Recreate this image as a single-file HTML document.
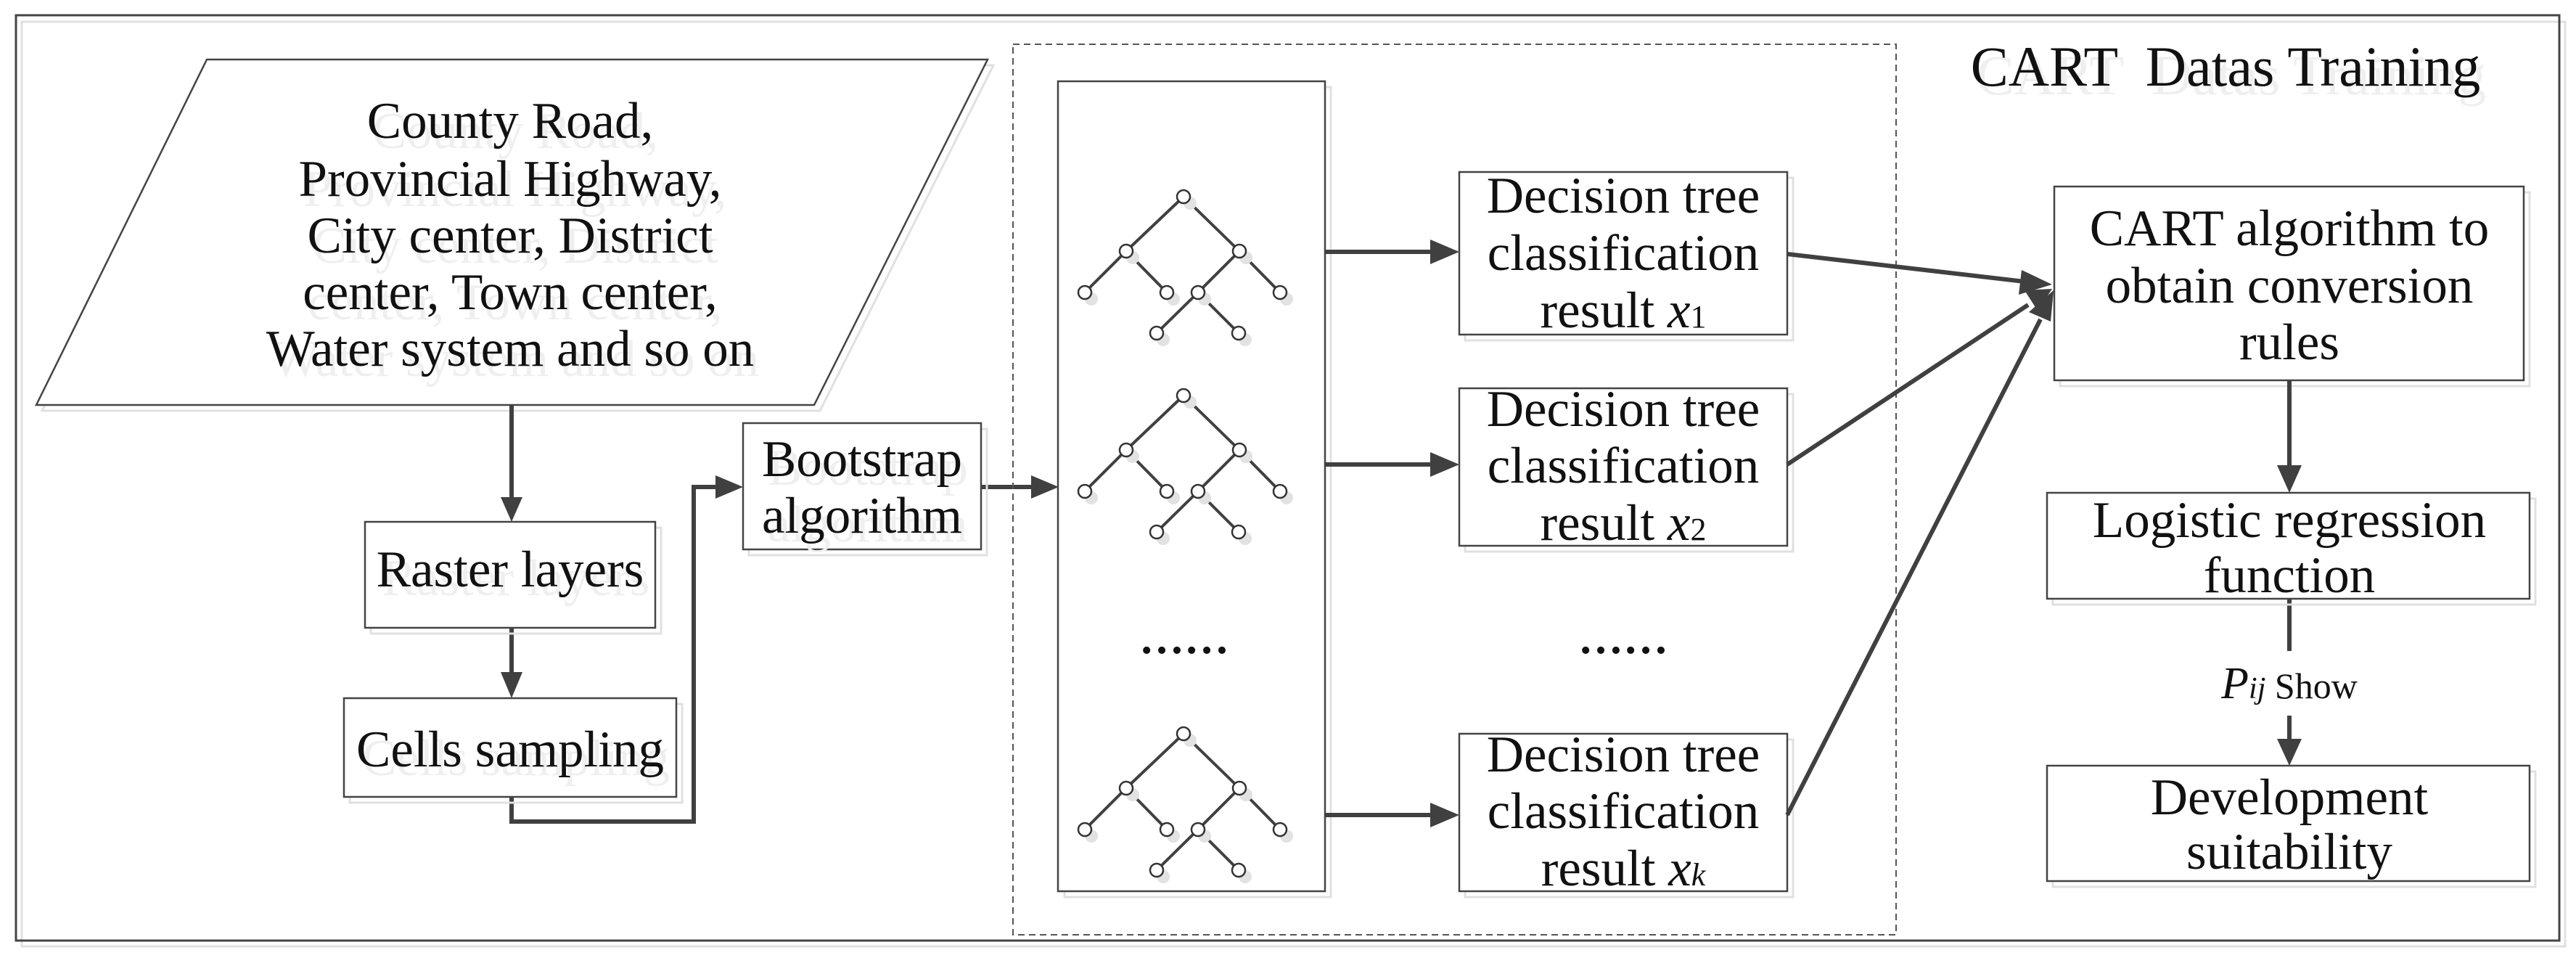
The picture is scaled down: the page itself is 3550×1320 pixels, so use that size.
<!DOCTYPE html>
<html><head><meta charset="utf-8"><style>
html,body{margin:0;padding:0;background:#fff;}
svg{display:block;}
text{font-family:"Liberation Serif",serif;font-size:71px;fill:#111;text-anchor:middle;}
.sh{fill:#efefef;}
</style></head><body>
<svg width="3550" height="1320" viewBox="0 0 3550 1320" xmlns="http://www.w3.org/2000/svg">
<defs>
<g id="tree">
<g stroke="#404040" stroke-width="4" fill="none">
<line x1="1631" y1="271" x2="1552" y2="346"/><line x1="1631" y1="271" x2="1708" y2="346"/>
<line x1="1552" y1="346" x2="1495" y2="403"/><line x1="1552" y1="346" x2="1608" y2="403"/>
<line x1="1708" y1="346" x2="1651" y2="403"/><line x1="1708" y1="346" x2="1764" y2="403"/>
<line x1="1651" y1="403" x2="1594" y2="459"/><line x1="1651" y1="403" x2="1707" y2="459"/>
</g>
<g fill="#e2e2e2">
<circle cx="1640" cy="280" r="9"/><circle cx="1561" cy="355" r="9"/><circle cx="1717" cy="355" r="9"/>
<circle cx="1504" cy="412" r="9"/><circle cx="1617" cy="412" r="9"/><circle cx="1660" cy="412" r="9"/><circle cx="1773" cy="412" r="9"/>
<circle cx="1603" cy="468" r="9"/><circle cx="1716" cy="468" r="9"/>
</g>
<g fill="#fff" stroke="#333" stroke-width="2.5">
<circle cx="1631" cy="271" r="9"/><circle cx="1552" cy="346" r="9"/><circle cx="1708" cy="346" r="9"/>
<circle cx="1495" cy="403" r="9"/><circle cx="1608" cy="403" r="9"/><circle cx="1651" cy="403" r="9"/><circle cx="1764" cy="403" r="9"/>
<circle cx="1594" cy="459" r="9"/><circle cx="1707" cy="459" r="9"/>
</g>
</g>
</defs>

<rect x="30" y="30" width="3505" height="1274" fill="none" stroke="#e0e0e0" stroke-width="3"/>
<rect x="22" y="21" width="3505" height="1275" fill="none" stroke="#444" stroke-width="3"/>

<polygon points="293,90 1369,90 1130,566 58,566" fill="none" stroke="#e0e0e0" stroke-width="3"/>
<polygon points="285,82 1361,82 1122,558 50,558" fill="#fff" stroke="#444" stroke-width="2.5"/>
<g transform="translate(7,14)">
<text x="703" y="190" class="sh">County Road,</text>
<text x="703" y="270" class="sh">Provincial Highway,</text>
<text x="703" y="348" class="sh">City center, District</text>
<text x="703" y="426" class="sh">center, Town center,</text>
<text x="703" y="504" class="sh">Water system and so on</text>
</g>
<text x="703" y="190">County Road,</text>
<text x="703" y="270">Provincial Highway,</text>
<text x="703" y="348">City center, District</text>
<text x="703" y="426">center, Town center,</text>
<text x="703" y="504">Water system and so on</text>

<g stroke="#404040" stroke-width="6" fill="none">
<line x1="705" y1="558" x2="705" y2="690"/>
<line x1="705" y1="865" x2="705" y2="930"/>
<polyline points="705,1098 705,1132 956,1132 956,671 990,671"/>
<line x1="1352" y1="671" x2="1425" y2="671"/>
</g>
<g fill="#404040">
<polygon points="690,685 720,685 705,719"/>
<polygon points="690,926 720,926 705,962"/>
<polygon points="986,655 986,687 1024,671"/>
<polygon points="1421,655 1421,687 1459,671"/>
</g>

<rect x="511" y="727" width="400" height="146" fill="none" stroke="#e0e0e0" stroke-width="3"/>
<rect x="503" y="719" width="400" height="146" fill="#fff" stroke="#444" stroke-width="2.5"/>
<text x="711" y="820" class="sh">Raster layers</text>
<text x="703" y="808">Raster layers</text>
<rect x="482" y="970" width="458" height="136" fill="none" stroke="#e0e0e0" stroke-width="3"/>
<rect x="474" y="962" width="458" height="136" fill="#fff" stroke="#444" stroke-width="2.5"/>
<text x="711" y="1068" class="sh">Cells sampling</text>
<text x="703" y="1056">Cells sampling</text>
<rect x="1032" y="591" width="328" height="174" fill="none" stroke="#e0e0e0" stroke-width="3"/>
<rect x="1024" y="583" width="328" height="174" fill="#fff" stroke="#444" stroke-width="2.5"/>
<text x="1196" y="668" class="sh">Bootstrap</text>
<text x="1196" y="746" class="sh">algorithm</text>
<text x="1188" y="656">Bootstrap</text>
<text x="1188" y="734">algorithm</text>

<rect x="1396" y="61" width="1217" height="1227" fill="none" stroke="#555" stroke-width="2" stroke-dasharray="9,6"/>
<rect x="1467" y="120" width="367" height="1116" fill="none" stroke="#e0e0e0" stroke-width="3"/>
<rect x="1458" y="112" width="368" height="1116" fill="#fff" stroke="#444" stroke-width="2.5"/>
<use href="#tree"/>
<use href="#tree" transform="translate(0,274)"/>
<use href="#tree" transform="translate(0,740)"/>
<text x="1632" y="900" style="font-weight:bold;font-size:62px">……</text>
<text x="2237" y="900" style="font-weight:bold;font-size:62px">……</text>

<g stroke="#404040" stroke-width="6">
<line x1="1826" y1="347" x2="1975" y2="347"/>
<line x1="1826" y1="640" x2="1975" y2="640"/>
<line x1="1826" y1="1123" x2="1975" y2="1123"/>
</g>
<g fill="#404040">
<polygon points="1971,330 1971,364 2011,347"/>
<polygon points="1971,623 1971,657 2011,640"/>
<polygon points="1971,1106 1971,1140 2011,1123"/>
</g>

<rect x="2019" y="245" width="452" height="224" fill="none" stroke="#e0e0e0" stroke-width="3"/>
<rect x="2011" y="237" width="452" height="224" fill="#fff" stroke="#444" stroke-width="2.5"/>
<rect x="2019" y="543" width="452" height="217" fill="none" stroke="#e0e0e0" stroke-width="3"/>
<rect x="2011" y="535" width="452" height="217" fill="#fff" stroke="#444" stroke-width="2.5"/>
<rect x="2019" y="1019" width="452" height="217" fill="none" stroke="#e0e0e0" stroke-width="3"/>
<rect x="2011" y="1011" width="452" height="217" fill="#fff" stroke="#444" stroke-width="2.5"/>
<text x="2237" y="293">Decision tree</text>
<text x="2237" y="372">classification</text>
<text x="2237" y="451">result <tspan font-style="italic">x</tspan><tspan font-size="44">1</tspan></text>
<text x="2237" y="587">Decision tree</text>
<text x="2237" y="665">classification</text>
<text x="2237" y="744">result <tspan font-style="italic">x</tspan><tspan font-size="44">2</tspan></text>
<text x="2237" y="1063">Decision tree</text>
<text x="2237" y="1141">classification</text>
<text x="2237" y="1220">result <tspan font-style="italic">x</tspan><tspan font-style="italic" font-size="44">k</tspan></text>

<g stroke="#404040" stroke-width="6">
<line x1="2463" y1="350" x2="2790" y2="388"/>
<line x1="2463" y1="640" x2="2795" y2="420"/>
<line x1="2463" y1="1123" x2="2812" y2="440"/>
</g>
<g fill="#404040">
<polygon points="2828,392 2786,372 2782,406"/>
<polygon points="2828,398 2790,400 2808,428"/>
<polygon points="2830,400 2796,430 2826,443"/>
</g>

<text x="3067" y="118" class="sh" style="font-size:78px" transform="translate(8,12)" xml:space="preserve">CART  Datas Training</text>
<text x="3067" y="118" style="font-size:78px" xml:space="preserve">CART  Datas Training</text>

<rect x="2839" y="265" width="647" height="267" fill="none" stroke="#e0e0e0" stroke-width="3"/>
<rect x="2831" y="257" width="647" height="267" fill="#fff" stroke="#444" stroke-width="2.5"/>
<text x="3155" y="338">CART algorithm to</text>
<text x="3155" y="417">obtain conversion</text>
<text x="3155" y="495">rules</text>

<g stroke="#404040" stroke-width="6">
<line x1="3155" y1="524" x2="3155" y2="645"/>
<line x1="3155" y1="825" x2="3155" y2="897"/>
<line x1="3155" y1="986" x2="3155" y2="1022"/>
</g>
<g fill="#404040">
<polygon points="3138,641 3172,641 3155,679"/>
<polygon points="3138,1018 3172,1018 3155,1055"/>
</g>

<rect x="2829" y="687" width="665" height="146" fill="none" stroke="#e0e0e0" stroke-width="3"/>
<rect x="2821" y="679" width="665" height="146" fill="#fff" stroke="#444" stroke-width="2.5"/>
<text x="3155" y="740">Logistic regression</text>
<text x="3155" y="816">function</text>

<text x="3155" y="962" style="font-size:50px"><tspan font-style="italic" font-size="62">P</tspan><tspan font-style="italic" font-size="42">ij</tspan> Show</text>

<rect x="2829" y="1063" width="665" height="159" fill="none" stroke="#e0e0e0" stroke-width="3"/>
<rect x="2821" y="1055" width="665" height="159" fill="#fff" stroke="#444" stroke-width="2.5"/>
<text x="3155" y="1122">Development</text>
<text x="3155" y="1197">suitability</text>
</svg>
</body></html>
